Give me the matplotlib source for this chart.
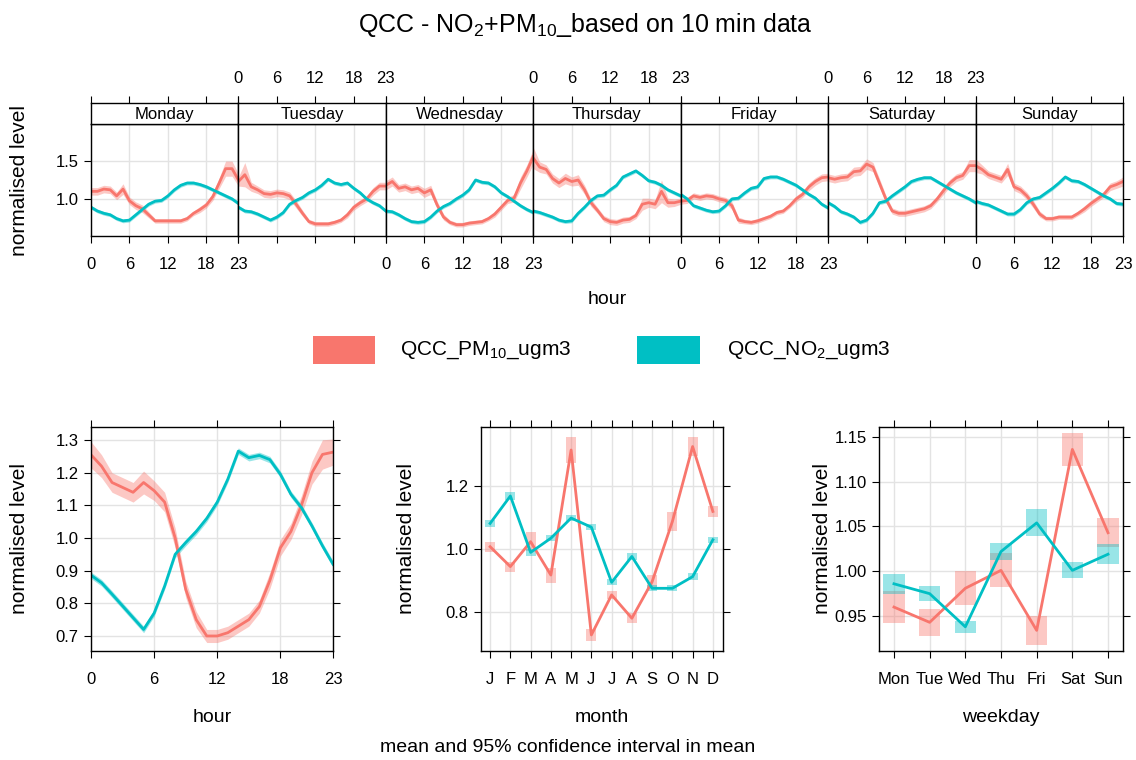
import numpy as np
import matplotlib
matplotlib.use('Agg')
import matplotlib.pyplot as plt
from matplotlib.patches import Rectangle

# Arial-like font (R on Windows), subscripts in the same font
plt.rcParams['font.family'] = ['Liberation Sans', 'DejaVu Sans']
plt.rcParams['mathtext.default'] = 'regular'

RED = '#F8766D'
CYAN = '#00BFC4'
GRID = '#E3E3E3'
W, H = 1136, 760

DAYS = ['Monday', 'Tuesday', 'Wednesday', 'Thursday', 'Friday', 'Saturday', 'Sunday']
HOURS = list(range(24))
MONTHS = ['J', 'F', 'M', 'A', 'M', 'J', 'J', 'A', 'S', 'O', 'N', 'D']
WEEKDAYS = ['Mon', 'Tue', 'Wed', 'Thu', 'Fri', 'Sat', 'Sun']

# ---- day.hour panel (normalised means) ----
PM10_DAY_HOUR = [
    [1.10, 1.10, 1.13, 1.12, 1.04, 1.13, 0.975, 0.91, 0.87, 0.79, 0.71, 0.71, 0.71, 0.71, 0.71, 0.74, 0.81, 0.86, 0.92, 1.03, 1.21, 1.40, 1.40, 1.25],
    [1.23, 1.32, 1.16, 1.12, 1.07, 1.06, 1.08, 1.07, 1.04, 0.93, 0.81, 0.70, 0.67, 0.67, 0.67, 0.69, 0.72, 0.79, 0.89, 0.95, 1.00, 1.10, 1.17, 1.17],
    [1.18, 1.23, 1.14, 1.16, 1.12, 1.14, 1.08, 1.12, 0.92, 0.76, 0.69, 0.66, 0.66, 0.68, 0.69, 0.70, 0.74, 0.80, 0.89, 0.98, 1.01, 1.21, 1.37, 1.56],
    [1.54, 1.42, 1.39, 1.27, 1.21, 1.27, 1.23, 1.25, 1.12, 0.95, 0.85, 0.74, 0.70, 0.69, 0.72, 0.73, 0.78, 0.93, 0.95, 0.93, 1.10, 0.95, 0.95, 0.97],
    [0.97, 0.98, 1.04, 1.02, 1.04, 1.03, 1.00, 0.98, 0.91, 0.72, 0.70, 0.69, 0.71, 0.74, 0.77, 0.82, 0.84, 0.91, 1.00, 1.06, 1.16, 1.23, 1.28, 1.29],
    [1.28, 1.26, 1.28, 1.29, 1.36, 1.37, 1.46, 1.42, 1.21, 1.00, 0.84, 0.81, 0.81, 0.83, 0.85, 0.87, 0.91, 1.00, 1.11, 1.21, 1.28, 1.31, 1.44, 1.44],
    [1.44, 1.39, 1.32, 1.29, 1.26, 1.39, 1.16, 1.12, 1.04, 0.93, 0.80, 0.74, 0.74, 0.76, 0.76, 0.76, 0.81, 0.87, 0.94, 1.00, 1.06, 1.16, 1.19, 1.23],
]
PM10_DAY_HOUR_CI = [
    [0.05, 0.05, 0.05, 0.05, 0.05, 0.07, 0.05, 0.05, 0.05, 0.04, 0.03, 0.03, 0.03, 0.03, 0.03, 0.03, 0.03, 0.04, 0.04, 0.05, 0.07, 0.10, 0.10, 0.08],
    [0.06, 0.16, 0.06, 0.05, 0.05, 0.05, 0.05, 0.05, 0.05, 0.05, 0.04, 0.03, 0.03, 0.03, 0.03, 0.03, 0.03, 0.04, 0.04, 0.04, 0.04, 0.05, 0.05, 0.05],
    [0.06, 0.06, 0.05, 0.05, 0.05, 0.05, 0.06, 0.06, 0.05, 0.04, 0.03, 0.03, 0.03, 0.03, 0.03, 0.03, 0.03, 0.04, 0.04, 0.04, 0.05, 0.08, 0.08, 0.10],
    [0.14, 0.07, 0.06, 0.06, 0.06, 0.07, 0.06, 0.07, 0.06, 0.05, 0.04, 0.04, 0.04, 0.04, 0.04, 0.04, 0.04, 0.08, 0.06, 0.06, 0.15, 0.06, 0.05, 0.04],
    [0.04, 0.04, 0.04, 0.04, 0.04, 0.04, 0.04, 0.04, 0.05, 0.04, 0.03, 0.03, 0.03, 0.03, 0.03, 0.03, 0.03, 0.03, 0.04, 0.04, 0.05, 0.05, 0.05, 0.05],
    [0.05, 0.05, 0.05, 0.05, 0.06, 0.06, 0.07, 0.06, 0.06, 0.05, 0.04, 0.04, 0.04, 0.04, 0.04, 0.04, 0.04, 0.04, 0.05, 0.05, 0.05, 0.05, 0.08, 0.08],
    [0.09, 0.06, 0.05, 0.05, 0.05, 0.08, 0.05, 0.05, 0.05, 0.05, 0.04, 0.03, 0.03, 0.03, 0.03, 0.03, 0.03, 0.04, 0.04, 0.04, 0.04, 0.05, 0.05, 0.06],
]
NO2_DAY_HOUR = [
    [0.89, 0.84, 0.81, 0.79, 0.74, 0.71, 0.72, 0.79, 0.86, 0.93, 0.97, 0.98, 1.04, 1.12, 1.18, 1.21, 1.21, 1.19, 1.16, 1.12, 1.08, 1.04, 1.00, 0.94],
    [0.89, 0.84, 0.83, 0.80, 0.76, 0.72, 0.76, 0.82, 0.93, 0.98, 1.02, 1.08, 1.12, 1.18, 1.26, 1.21, 1.19, 1.21, 1.14, 1.08, 1.00, 0.95, 0.91, 0.84],
    [0.84, 0.83, 0.79, 0.74, 0.70, 0.69, 0.70, 0.76, 0.84, 0.90, 0.94, 1.00, 1.05, 1.12, 1.25, 1.22, 1.21, 1.16, 1.08, 1.03, 0.97, 0.91, 0.86, 0.82],
    [0.84, 0.82, 0.79, 0.76, 0.72, 0.70, 0.71, 0.81, 0.89, 0.98, 1.04, 1.05, 1.12, 1.18, 1.29, 1.33, 1.37, 1.31, 1.24, 1.22, 1.18, 1.12, 1.08, 1.04],
    [1.06, 1.00, 0.91, 0.88, 0.85, 0.83, 0.84, 0.91, 1.00, 1.01, 1.08, 1.14, 1.16, 1.27, 1.29, 1.29, 1.26, 1.22, 1.18, 1.12, 1.06, 1.01, 0.93, 0.88],
    [0.95, 0.90, 0.83, 0.80, 0.76, 0.69, 0.72, 0.81, 0.95, 0.97, 1.04, 1.10, 1.16, 1.23, 1.26, 1.28, 1.28, 1.23, 1.18, 1.13, 1.08, 1.04, 1.00, 0.95],
    [0.97, 0.94, 0.92, 0.88, 0.84, 0.80, 0.80, 0.86, 0.95, 1.00, 1.02, 1.08, 1.14, 1.21, 1.29, 1.24, 1.23, 1.19, 1.14, 1.09, 1.04, 1.00, 0.94, 0.93],
]
NO2_DAY_HOUR_CI = 0.025

# ---- hour panel ----
PM10_HOUR = [1.255, 1.22, 1.17, 1.155, 1.14, 1.17, 1.145, 1.11, 1.00, 0.843, 0.75, 0.70, 0.70, 0.71, 0.73, 0.75, 0.79, 0.87, 0.97, 1.02, 1.10, 1.20, 1.256, 1.263]
PM10_HOUR_CI = [0.04, 0.035, 0.03, 0.03, 0.03, 0.035, 0.03, 0.03, 0.03, 0.025, 0.025, 0.02, 0.02, 0.02, 0.02, 0.02, 0.02, 0.025, 0.025, 0.025, 0.03, 0.035, 0.045, 0.04]
NO2_HOUR = [0.886, 0.863, 0.828, 0.792, 0.756, 0.72, 0.77, 0.853, 0.95, 0.986, 1.02, 1.06, 1.11, 1.18, 1.266, 1.246, 1.253, 1.24, 1.195, 1.134, 1.093, 1.037, 0.976, 0.92]
NO2_HOUR_CI = 0.01

# ---- month panel ----
PM10_MONTH = [1.007, 0.944, 1.023, 0.917, 1.314, 0.727, 0.854, 0.78, 0.896, 1.087, 1.325, 1.119]
PM10_MONTH_CI = [0.016, 0.016, 0.03, 0.024, 0.04, 0.02, 0.013, 0.016, 0.02, 0.03, 0.03, 0.017]
NO2_MONTH = [1.081, 1.168, 0.989, 1.034, 1.098, 1.069, 0.894, 0.976, 0.875, 0.875, 0.912, 1.029]
NO2_MONTH_CI = [0.01, 0.013, 0.01, 0.01, 0.01, 0.01, 0.01, 0.01, 0.01, 0.01, 0.01, 0.01]

# ---- weekday panel ----
PM10_WEEKDAY = [0.960, 0.943, 0.981, 1.001, 0.934, 1.136, 1.043]
PM10_WEEKDAY_CI = [0.018, 0.015, 0.019, 0.019, 0.016, 0.018, 0.016]
NO2_WEEKDAY = [0.986, 0.975, 0.938, 1.022, 1.054, 1.001, 1.019]
NO2_WEEKDAY_CI = [0.011, 0.008, 0.007, 0.009, 0.015, 0.009, 0.011]

TICK_FS = 12
LAB_FS = 14


def px_box(x0, y0, x1, y1):
    """pixel box (top-left origin) -> figure fraction rect"""
    return [x0 / W, 1 - y1 / H, (x1 - x0) / W, (y1 - y0) / H]


def fig_text(fig, x, y, s, **kw):
    fig.text(x / W, 1 - y / H, s, ha='center', va='center', **kw)


def frame(ax):
    for sp in ax.spines.values():
        sp.set_color('black')
        sp.set_linewidth(1.0)
    ax.grid(True, color=GRID, linewidth=1.0)
    ax.set_axisbelow(True)
    ax.tick_params(direction='out', length=5, width=0.8, colors='black',
                   labelsize=TICK_FS, labelcolor='black')
    ax.tick_params(axis='x', pad=10)
    ax.tick_params(axis='y', pad=4)


def band(ax, x, mean, ci, color):
    mean = np.asarray(mean, dtype=float)
    ci = np.asarray(ci, dtype=float) * np.ones_like(mean)
    ax.fill_between(x, mean - ci, mean + ci, color=color, alpha=0.4, lw=0)
    ax.plot(x, mean, color=color, lw=2)


def boxes(ax, x, mean, ci, color, width):
    mean = np.asarray(mean, dtype=float)
    ci = np.asarray(ci, dtype=float)
    ax.bar(x, 2 * ci, bottom=mean - ci, width=width, color=color, alpha=0.4, lw=0)
    ax.plot(x, mean, color=color, lw=2)


fig = plt.figure(figsize=(W / 100, H / 100), dpi=100)

# ---------------- top: day x hour ----------------
left, right = 91, 1123
day_w = (right - left) / 7
hour_ticks = [0, 6, 12, 18, 23]
for d, day in enumerate(DAYS):
    x0 = left + d * day_w
    ax = fig.add_axes(px_box(x0, 124, x0 + day_w, 236))
    frame(ax)
    band(ax, HOURS, PM10_DAY_HOUR[d], PM10_DAY_HOUR_CI[d], RED)
    band(ax, HOURS, NO2_DAY_HOUR[d], NO2_DAY_HOUR_CI, CYAN)
    ax.set_xlim(0, 23)
    ax.set_ylim(0.51, 1.99)
    ax.set_xticks(hour_ticks)
    ax.set_yticks([1.0, 1.5])
    ax.set_yticklabels(['1.0', '1.5'])
    ax.tick_params(axis='x', top=False, bottom=True, labelbottom=(d % 2 == 0))
    ax.tick_params(axis='y', left=(d == 0), labelleft=(d == 0),
                   right=(d == 6), labelright=False)

    # strip with day name, ticks on top
    st = fig.add_axes(px_box(x0, 103, x0 + day_w, 124))
    for sp in st.spines.values():
        sp.set_color('black')
        sp.set_linewidth(1.0)
    st.set_xlim(0, 23)
    st.set_ylim(0, 1)
    st.set_xticks(hour_ticks)
    st.set_yticks([])
    st.tick_params(axis='x', direction='out', length=5, width=0.8, top=True, bottom=False,
                   labeltop=(d % 2 == 1), labelbottom=False, labelsize=TICK_FS, pad=7)
    st.text(11.5, 0.45, day, ha='center', va='center', fontsize=12)

fig_text(fig, 20, 180, 'normalised level', fontsize=LAB_FS + 1, rotation=90)
fig_text(fig, 607, 300, 'hour', fontsize=LAB_FS)
fig_text(fig, 585, 25, 'QCC - NO$_2$+PM$_{10}$_based on 10 min data', fontsize=18)

# legend
fig.add_artist(Rectangle((313 / W, 1 - 364 / H), 62 / W, 28 / H,
                         transform=fig.transFigure, color=RED, lw=0))
fig.add_artist(Rectangle((637 / W, 1 - 364 / H), 63 / W, 28 / H,
                         transform=fig.transFigure, color=CYAN, lw=0))
fig.text(400 / W, 1 - 350 / H, 'QCC_PM$_{10}$_ugm3', ha='left', va='center', fontsize=15)
fig.text(727 / W, 1 - 350 / H, 'QCC_NO$_2$_ugm3', ha='left', va='center', fontsize=15)

# ---------------- bottom left: hour ----------------
ax = fig.add_axes(px_box(91, 427, 333, 651))
frame(ax)
band(ax, HOURS, PM10_HOUR, PM10_HOUR_CI, RED)
band(ax, HOURS, NO2_HOUR, NO2_HOUR_CI, CYAN)
ax.set_xlim(0, 23)
ax.set_ylim(0.654, 1.34)
ax.set_xticks(hour_ticks)
ax.set_yticks([0.7, 0.8, 0.9, 1.0, 1.1, 1.2, 1.3])
ax.set_yticklabels(['0.7', '0.8', '0.9', '1.0', '1.1', '1.2', '1.3'])
ax.tick_params(top=True, labeltop=False, right=True, labelright=False)
fig_text(fig, 20, 539, 'normalised level', fontsize=LAB_FS + 1, rotation=90)
fig_text(fig, 212, 718, 'hour', fontsize=LAB_FS)

# ---------------- bottom middle: month ----------------
ax = fig.add_axes(px_box(481, 427, 723, 651))
frame(ax)
mx = np.arange(1, 13)
boxes(ax, mx, PM10_MONTH, PM10_MONTH_CI, RED, 0.5)
boxes(ax, mx, NO2_MONTH, NO2_MONTH_CI, CYAN, 0.5)
ax.set_xlim(0.55, 12.5)
ax.set_ylim(0.676, 1.387)
ax.set_xticks(mx)
ax.set_xticklabels(MONTHS)
ax.set_yticks([0.8, 1.0, 1.2])
ax.set_yticklabels(['0.8', '1.0', '1.2'])
ax.tick_params(top=True, labeltop=False, right=True, labelright=False)
fig_text(fig, 407, 539, 'normalised level', fontsize=LAB_FS + 1, rotation=90)
fig_text(fig, 602, 718, 'month', fontsize=LAB_FS)

# ---------------- bottom right: weekday ----------------
ax = fig.add_axes(px_box(879, 427, 1123, 651))
frame(ax)
wx = np.arange(1, 8)
boxes(ax, wx, PM10_WEEKDAY, PM10_WEEKDAY_CI, RED, 0.6)
boxes(ax, wx, NO2_WEEKDAY, NO2_WEEKDAY_CI, CYAN, 0.6)
ax.set_xlim(0.58, 7.42)
ax.set_ylim(0.911, 1.161)
ax.set_xticks(wx)
ax.set_xticklabels(WEEKDAYS)
ax.set_yticks([0.95, 1.0, 1.05, 1.10, 1.15])
ax.set_yticklabels(['0.95', '1.00', '1.05', '1.10', '1.15'])
ax.tick_params(top=True, labeltop=False, right=True, labelright=False)
fig_text(fig, 822, 539, 'normalised level', fontsize=LAB_FS + 1, rotation=90)
fig_text(fig, 1001, 718, 'weekday', fontsize=LAB_FS)

fig_text(fig, 568, 748, 'mean and 95% confidence interval in mean', fontsize=LAB_FS)

fig.savefig('out.png', dpi=100)
